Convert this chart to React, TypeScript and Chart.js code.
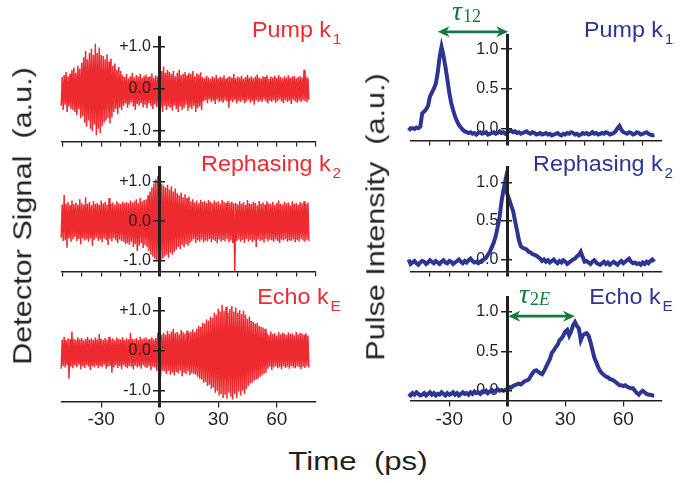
import React, { useEffect, useRef } from "react";
import { Chart, registerables } from "chart.js";

Chart.register(...registerables);

// ---------------- DATA ----------------
// Detector signal (left column): upper / lower excursions of the oscillating trace,
// one pair per 1 ps starting at SIG_T0 (ps)
const SIG_T0 = -53;

const pumpSigUpper = [
  0.35, 0.30, 0.38, 0.28, 0.33, 0.40, 0.30, 0.36,
  0.45, 0.50, 0.38, 0.55, 0.48, 0.62,
  0.75, 0.90, 0.70, 0.85, 0.95, 0.80,
  1.07, 0.85, 0.98, 0.80,
  0.78, 0.70, 0.82, 0.65, 0.72,
  0.55, 0.60, 0.45, 0.52, 0.42,
  0.32, 0.28, 0.35, 0.25, 0.30, 0.38, 0.27, 0.33, 0.29, 0.36, 0.26, 0.31, 0.34, 0.28, 0.30, 0.37, 0.27, 0.32, 0.29,
  0.30, 0.42, 0.53, 0.38, 0.45,
  0.40, 0.35, 0.42, 0.30, 0.38, 0.45, 0.33, 0.36, 0.40, 0.32, 0.38, 0.35, 0.42, 0.30, 0.37, 0.34, 0.39,
  0.28, 0.25, 0.31, 0.27, 0.24, 0.30, 0.26, 0.33, 0.25, 0.29,
  0.27, 0.32, 0.24, 0.28, 0.30, 0.26, 0.35, 0.25, 0.29, 0.27,
  0.31, 0.24, 0.28, 0.33, 0.26, 0.30, 0.25, 0.29, 0.34, 0.27,
  0.25, 0.30, 0.28, 0.32, 0.24, 0.29, 0.27, 0.31, 0.26, 0.33,
  0.28, 0.25, 0.30, 0.27, 0.32, 0.26, 0.29, 0.31, 0.25, 0.28,
  0.30, 0.27, 0.45, 0.29, 0.26,
];
const pumpSigLower = [
  -0.45, -0.60, -0.40, -0.50, -0.38, -0.55, -0.42, -0.48,
  -0.50, -0.55, -0.62, -0.48, -0.70, -0.65,
  -0.80, -0.90, -0.75, -0.95, -1.00, -0.85,
  -1.10, -0.95, -1.05, -0.88,
  -0.80, -0.75, -0.70, -0.82, -0.68,
  -0.55, -0.48, -0.60, -0.45, -0.50,
  -0.40, -0.35, -0.45, -0.38, -0.32, -0.42, -0.50, -0.36, -0.40, -0.34, -0.44, -0.38, -0.46, -0.35, -0.41, -0.48, -0.37, -0.43, -0.39,
  -0.45, -0.55, -0.40, -0.50, -0.42,
  -0.45, -0.52, -0.40, -0.48, -0.55, -0.42, -0.50, -0.45, -0.38, -0.52, -0.44, -0.48, -0.40, -0.55, -0.46, -0.42, -0.50,
  -0.30, -0.27, -0.34, -0.25, -0.31, -0.28, -0.36, -0.26, -0.32, -0.29,
  -0.33, -0.27, -0.30, -0.45, -0.28, -0.32, -0.26, -0.35, -0.29, -0.31,
  -0.27, -0.34, -0.30, -0.26, -0.33, -0.29, -0.38, -0.27, -0.31, -0.28,
  -0.32, -0.26, -0.30, -0.35, -0.28, -0.31, -0.27, -0.33, -0.29, -0.25,
  -0.30, -0.34, -0.27, -0.31, -0.28, -0.36, -0.26, -0.30, -0.33, -0.28,
  -0.31, -0.27, -0.29, -0.32, -0.26,
];

const rephSigUpper = [
  0.45, 0.40, 0.50, 0.42, 0.66, 0.44, 0.48, 0.40, 0.52, 0.43,
  0.47, 0.41, 0.55, 0.45, 0.42, 0.60, 0.44, 0.48, 0.40, 0.50,
  0.43, 0.46, 0.41, 0.52, 0.45, 0.48, 0.42, 0.58, 0.44, 0.47,
  0.41, 0.50, 0.45, 0.43, 0.49, 0.46,
  0.48, 0.45, 0.52, 0.47, 0.50, 0.55, 0.46, 0.58, 0.50, 0.53,
  0.55, 0.65, 0.75, 0.85, 0.95, 1.05, 1.13,
  1.00, 0.95, 0.90, 0.85, 0.92, 0.80, 0.88, 0.75, 0.82,
  0.70, 0.65, 0.72, 0.60, 0.68, 0.58, 0.62,
  0.50, 0.55, 0.47, 0.52, 0.45, 0.54, 0.48, 0.51, 0.46, 0.53, 0.49, 0.45, 0.52, 0.47, 0.50, 0.44, 0.53, 0.48, 0.46, 0.51, 0.47, 0.49,
  0.45,
  0.46, 0.42, 0.50, 0.44, 0.48, 0.41, 0.53, 0.45, 0.43, 0.49,
  0.46, 0.40, 0.51, 0.44, 0.47, 0.42, 0.50, 0.45, 0.43, 0.48,
  0.41, 0.46, 0.52, 0.44, 0.42, 0.49, 0.45, 0.47, 0.40, 0.50,
  0.44, 0.46, 0.42, 0.48, 0.45, 0.50, 0.43, 0.47,
];
const rephSigLower = [
  -0.45, -0.55, -0.42, -0.50, -0.48, -0.67, -0.44, -0.52, -0.46, -0.40,
  -0.50, -0.45, -0.58, -0.43, -0.49, -0.46, -0.52, -0.44, -0.62, -0.47,
  -0.42, -0.50, -0.46, -0.53, -0.44, -0.48, -0.60, -0.45, -0.51, -0.43,
  -0.49, -0.55, -0.46, -0.50, -0.52, -0.58,
  -0.55, -0.60, -0.52, -0.65, -0.58, -0.75, -0.62, -0.56, -0.68, -0.60,
  -0.65, -0.75, -0.85, -0.90, -0.95, -1.00, -1.05,
  -1.00, -0.95, -0.90, -0.85, -0.92, -0.80, -0.85, -0.78, -0.72,
  -0.65, -0.70, -0.60, -0.66, -0.58, -0.62, -0.55,
  -0.50, -0.45, -0.55, -0.48, -0.52, -0.46, -0.54, -0.49, -0.51, -0.45, -0.53, -0.47, -0.50, -0.56, -0.46, -0.52, -0.48, -0.51, -0.45, -0.53, -0.49, -0.55,
  -1.27,
  -0.50, -0.46, -0.52, -0.48, -0.55, -0.45, -0.51, -0.47, -0.53, -0.49,
  -0.65, -0.46, -0.50, -0.48, -0.54, -0.45, -0.51, -0.47, -0.49, -0.52,
  -0.46, -0.50, -0.55, -0.47, -0.49, -0.45, -0.52, -0.48, -0.50, -0.46,
  -0.53, -0.48, -0.51, -0.45, -0.49, -0.52, -0.47, -0.50,
];

const echoSigUpper = [
  0.30, 0.26, 0.33, 0.28, 0.35, 0.27, 0.31, 0.29, 0.48, 0.30,
  0.27, 0.34, 0.29, 0.32, 0.26, 0.30, 0.35, 0.28, 0.31, 0.27,
  0.33, 0.29, 0.42, 0.30, 0.27, 0.32, 0.28, 0.35, 0.29, 0.31,
  0.26, 0.33, 0.30, 0.28, 0.34, 0.27, 0.31, 0.29, 0.45, 0.30,
  0.28, 0.32, 0.27, 0.35, 0.29, 0.31, 0.33, 0.28, 0.30, 0.34,
  0.29, 0.32,
  0.45, 0.60, 0.40,
  0.45, 0.40, 0.50, 0.42, 0.48, 0.55, 0.44, 0.47, 0.41, 0.52, 0.46, 0.43, 0.50, 0.45, 0.48, 0.53, 0.47,
  0.55, 0.62, 0.60, 0.70, 0.68, 0.78, 0.75, 0.85, 0.82, 0.95, 0.90, 1.05, 0.98, 1.15,
  1.00, 1.10, 0.95, 1.05, 1.12, 0.98, 1.08, 0.95, 1.02, 0.92, 1.00, 0.90,
  0.80, 0.85, 0.75, 0.72, 0.68, 0.70, 0.62, 0.60, 0.58, 0.55,
  0.45, 0.40, 0.48, 0.42, 0.44, 0.38, 0.47, 0.41, 0.45, 0.43, 0.40, 0.46, 0.42, 0.44, 0.39, 0.47, 0.41, 0.45, 0.43, 0.40, 0.44, 0.38,
];
const echoSigLower = [
  -0.40, -0.35, -0.45, -0.38, -0.42, -0.36, -0.70, -0.40, -0.44, -0.37,
  -0.41, -0.35, -0.46, -0.39, -0.43, -0.36, -0.40, -0.48, -0.38, -0.42,
  -0.37, -0.44, -0.39, -0.41, -0.35, -0.45, -0.40, -0.38, -0.55, -0.42,
  -0.37, -0.43, -0.39, -0.46, -0.36, -0.41, -0.44, -0.38, -0.40, -0.47,
  -0.37, -0.42, -0.39, -0.45, -0.36, -0.41, -0.43, -0.38, -0.48, -0.40,
  -0.42, -0.50,
  -0.50, -0.65, -0.50,
  -0.52, -0.58, -0.50, -0.60, -0.55, -0.62, -0.53, -0.57, -0.50, -0.64, -0.55, -0.59, -0.52, -0.61, -0.56, -0.58, -0.60,
  -0.65, -0.70, -0.72, -0.80, -0.78, -0.88, -0.85, -0.95, -0.92, -1.05, -1.00, -1.12, -1.08, -1.18,
  -1.10, -1.20, -1.05, -1.15, -1.22, -1.08, -1.18, -1.02, -1.12, -1.00, -1.08, -0.95,
  -0.88, -0.82, -0.80, -0.75, -0.72, -0.70, -0.65, -0.62, -0.58, -0.55,
  -0.45, -0.40, -0.48, -0.42, -0.38, -0.44, -0.41, -0.46, -0.39, -0.43, -0.40, -0.45, -0.38, -0.42, -0.44, -0.39, -0.41, -0.46, -0.40, -0.43, -0.38, -0.42,
];

// Pulse intensity (right column): one value per 1 ps starting at INT_T0 (ps)
const INT_T0 = -54;

const pumpInt = [
  -0.03, -0.04, -0.02, -0.03, 0.00, 0.00, -0.01, 0.01, 0.00, 0.02,
  0.19, 0.21, 0.24, 0.28, 0.40, 0.45, 0.50, 0.56, 0.70, 0.90, 1.03, 0.92,
  0.78, 0.62, 0.45, 0.32, 0.23, 0.15, 0.09, 0.04, 0.01, -0.02, -0.04,
  -0.05, -0.06, -0.05, -0.07, -0.06, -0.08, -0.06, -0.05, -0.07, -0.06, -0.05, -0.08, -0.07, -0.06, -0.05, -0.07, -0.06, -0.04, -0.06, -0.05, -0.07,
  -0.05, -0.04, -0.03, -0.05, -0.04, -0.06, -0.05, -0.07, -0.06, -0.05,
  -0.04, -0.06, -0.07, -0.05, -0.06, -0.08, -0.07, -0.06, -0.08, -0.07,
  -0.06, -0.08, -0.07, -0.09, -0.08, -0.07, -0.06, -0.08, -0.09, -0.07,
  -0.08, -0.06, -0.07, -0.05, -0.06, -0.08, -0.07, -0.09, -0.08, -0.06,
  -0.07, -0.06, -0.08, -0.07, -0.05, -0.07, -0.06, -0.08, -0.07, -0.06,
  -0.07, -0.05, -0.06, -0.08, -0.07, -0.06, -0.04, 0.00, 0.03, -0.02,
  -0.05, -0.06, -0.07, -0.05, -0.06, -0.08, -0.07, -0.05, -0.06, -0.08,
  -0.07, -0.06, -0.05, -0.07, -0.08, -0.09, -0.08,
];

const rephInt = [
  -0.02, -0.05, -0.03, 0.00, -0.06, -0.04, -0.02, -0.05, -0.07, -0.04,
  -0.02, -0.03, -0.06, -0.04, -0.01, -0.03, -0.05, -0.02, -0.04, -0.06,
  -0.03, -0.01, -0.04, -0.05, -0.02, -0.03, -0.06, -0.04, -0.02, 0.00,
  -0.03, -0.05, -0.02, -0.04, -0.01, 0.01, -0.02, -0.04, -0.03, -0.05,
  -0.03, -0.01, 0.00, 0.02,
  0.06, 0.10, 0.16, 0.22, 0.30, 0.42, 0.55, 0.75, 0.90, 1.02, 0.85, 0.78, 0.70,
  0.63, 0.50, 0.38, 0.25, 0.17, 0.15, 0.14, 0.13, 0.10, 0.09, 0.07, 0.06, 0.05,
  0.03, 0.01, -0.02, 0.00, -0.03, -0.01, -0.04, -0.02, 0.00, -0.03,
  -0.05, -0.02, -0.04, -0.01, -0.03, -0.06, -0.04, -0.02, 0.00, 0.01,
  0.04, 0.06, 0.10, 0.03, -0.03, -0.02, -0.04, -0.06, -0.03, -0.01,
  -0.04, -0.06, -0.07, -0.05, -0.03, -0.06, -0.04, -0.07, -0.05, -0.03,
  -0.05, -0.07, -0.04, -0.02, -0.05, -0.03, -0.01, 0.01, -0.03, -0.05,
  -0.04, -0.06, -0.05, -0.07, -0.04, -0.06, -0.03, -0.05, -0.02, 0.00,
  -0.03,
];

const echoInt = [
  -0.03, -0.05, -0.02, -0.04, -0.06, -0.03, -0.05, -0.02, -0.04, -0.06,
  -0.05, -0.03, -0.06, -0.04, -0.02, -0.05, -0.03, -0.06, -0.04, -0.05,
  -0.02, -0.04, -0.06, -0.03, -0.05, -0.04, -0.02, -0.05, -0.03, -0.06,
  -0.04, -0.02, -0.04, -0.03, -0.05, -0.02, -0.04, -0.01, -0.03, -0.02,
  -0.04, -0.01, -0.02, 0.00, -0.03, -0.01, 0.01, -0.01, 0.00, 0.02,
  0.00, 0.01,
  0.00, 0.01, 0.02, 0.05, 0.04, 0.06, 0.07, 0.08, 0.09, 0.08,
  0.10, 0.12, 0.13, 0.14, 0.18, 0.22, 0.25, 0.26, 0.24, 0.22,
  0.21, 0.25, 0.30, 0.35, 0.40, 0.48, 0.51, 0.55, 0.58, 0.64,
  0.66, 0.70, 0.75, 0.77, 0.70, 0.75, 0.83, 0.87, 0.82, 0.79,
  0.64, 0.70, 0.72, 0.73, 0.70, 0.62, 0.52, 0.42, 0.36, 0.30,
  0.25, 0.22, 0.20, 0.18, 0.17, 0.15, 0.14, 0.13, 0.11, 0.09,
  0.07, 0.07, 0.06, 0.07, 0.05, 0.04, 0.03, 0.03, 0.00, -0.03,
  -0.05, -0.02, 0.00, -0.02, -0.04, -0.05, -0.05, -0.06, -0.06,
];

// Axis ticks
const X_MIN = -50;
const X_MAX = 80;
const xTicksLeftMinor = [-50, -40, -30, -20, -10, 0, 10, 20, 30, 40, 50, 60, 70, 80];
const xTicksRightMinor = [-40, -30, -20, -10, 0, 10, 20, 30, 40, 50, 60, 70];
const xTicksLabelled = [-30, 0, 30, 60];
const ySignalTicks = [-1, 0, 1];
const yIntensityTicks = [0, 0.5, 1];

// Delay annotations (ps, intensity units)
const tau12Arrow = { from: -36, to: 0.5, y: 1.22 };
const tau2EArrow = { from: 0.5, to: 35, y: 0.945 };

// ---------------- STYLE ----------------
const RED = "#ec2a2f";
const BLUE = "#2c3591";
const GREEN = "#17793d";
const INK = "#231f20";
const FONT = "'Liberation Sans', Arial, Helvetica, sans-serif";

const arrowPlugin = {
  id: "arrowAnno",
  afterDraw(chart: any, _args: any, opts: any) {
    if (!opts || opts.from === undefined) return;
    const { ctx } = chart;
    const xs = chart.scales.x;
    const ys = chart.scales.y;
    const x1 = xs.getPixelForValue(opts.from);
    const x2 = xs.getPixelForValue(opts.to);
    const py = ys.getPixelForValue(opts.y);
    const hl = 12;
    const hw = 5.5;
    ctx.save();
    ctx.strokeStyle = GREEN;
    ctx.fillStyle = GREEN;
    ctx.lineWidth = 2.6;
    ctx.beginPath();
    ctx.moveTo(x1 + hl * 0.6, py);
    ctx.lineTo(x2 - hl * 0.6, py);
    ctx.stroke();
    ctx.beginPath();
    ctx.moveTo(x1, py);
    ctx.lineTo(x1 + hl, py - hw);
    ctx.lineTo(x1 + hl * 0.7, py);
    ctx.lineTo(x1 + hl, py + hw);
    ctx.closePath();
    ctx.fill();
    ctx.beginPath();
    ctx.moveTo(x2, py);
    ctx.lineTo(x2 - hl, py - hw);
    ctx.lineTo(x2 - hl * 0.7, py);
    ctx.lineTo(x2 - hl, py + hw);
    ctx.closePath();
    ctx.fill();
    ctx.restore();
  },
};

type Pad = { left: number; top: number; right: number; bottom: number };
type PanelSpec = {
  x: number;
  y: number;
  w: number;
  h: number;
  pad: Pad;
  yMin: number;
  yMax: number;
  yTicks: number[];
  yLabel: (v: number) => string;
  xTicks: number[];
  xLabels: boolean;
  kind: "signal" | "intensity";
  upper?: number[];
  lower?: number[];
  values?: number[];
  arrow?: { from: number; to: number; y: number };
};

function buildData(spec: PanelSpec) {
  if (spec.kind === "signal") {
    const pts: { x: number; y: number }[] = [];
    spec.upper!.forEach((u, i) => {
      pts.push({ x: SIG_T0 + i, y: u });
      pts.push({ x: SIG_T0 + i + 0.5, y: spec.lower![i] });
    });
    return {
      datasets: [
        {
          data: pts,
          borderColor: RED,
          borderWidth: 1.5,
          pointRadius: 0,
          tension: 0,
          clip: false as const,
        },
      ],
    };
  }
  return {
    datasets: [
      {
        data: spec.values!.map((v, i) => ({ x: INT_T0 + i, y: v })),
        borderColor: BLUE,
        borderWidth: 4,
        pointRadius: 0,
        tension: 0,
        clip: false as const,
      },
    ],
  };
}

function Panel({ spec }: { spec: PanelSpec }) {
  const ref = useRef<HTMLCanvasElement>(null);
  useEffect(() => {
    const labelsOnTop = spec.kind === "signal" ? 1 : 0;
    const setYTicks = (s: any) => {
      s.ticks = spec.yTicks.map((v) => ({ value: v }));
    };
    const chart = new Chart(ref.current as HTMLCanvasElement, {
      type: "line",
      data: buildData(spec) as any,
      plugins: spec.arrow ? [arrowPlugin as any] : [],
      options: {
        responsive: false,
        animation: false,
        devicePixelRatio: 1,
        layout: { padding: spec.pad },
        plugins: {
          legend: { display: false },
          tooltip: { enabled: false },
          title: { display: false },
          ...(spec.arrow ? { arrowAnno: spec.arrow } : {}),
        } as any,
        scales: {
          x: {
            type: "linear",
            min: X_MIN,
            max: X_MAX,
            position: { y: spec.yMin } as any,
            afterBuildTicks: (s: any) => {
              s.ticks = spec.xTicks.map((v) => ({ value: v }));
            },
            grid: {
              drawOnChartArea: false,
              drawTicks: true,
              tickLength: spec.xLabels ? 5 : 4,
              color: INK,
              lineWidth: (c: any) => (c.tick && c.tick.value === 0 ? 3 : 1.2),
            },
            border: { display: true, color: INK, width: 1.5 },
            ticks: {
              display: spec.xLabels,
              autoSkip: false,
              maxRotation: 0,
              padding: 2,
              color: INK,
              font: { family: FONT, size: 19 },
              callback: (v: any) => String(v),
            },
          },
          y: {
            type: "linear",
            min: spec.yMin,
            max: spec.yMax,
            position: { x: 0 } as any,
            afterBuildTicks: setYTicks,
            grid: {
              drawOnChartArea: false,
              drawTicks: true,
              tickLength: 5,
              color: INK,
              lineWidth: 1.5,
              z: 1,
            },
            border: { display: true, color: INK, width: 3, z: 1 },
            ticks: {
              autoSkip: false,
              color: INK,
              z: labelsOnTop,
              font: { family: FONT, size: 16 },
              callback: (v: any) => spec.yLabel(Number(v)),
            },
          },
          // right-hand half of the cross-shaped tick marks on the x = 0 axis
          yCross: {
            type: "linear",
            min: spec.yMin,
            max: spec.yMax,
            position: { x: 0 } as any,
            afterBuildTicks: setYTicks,
            grid: {
              drawOnChartArea: false,
              drawTicks: true,
              tickLength: -5,
              color: INK,
              lineWidth: 1.5,
              z: 1,
            },
            border: { display: false },
            ticks: { display: false },
          },
        },
      } as any,
    });
    return () => chart.destroy();
  }, []);
  return (
    <canvas
      ref={ref}
      width={spec.w}
      height={spec.h}
      style={{ position: "absolute", left: spec.x, top: spec.y, width: spec.w, height: spec.h }}
    />
  );
}

const sigLabel = (v: number) => (v > 0 ? "+" : "") + v.toFixed(1) + "  ";
const intLabel = (v: number) => v.toFixed(1) + "  ";

const LX = 0, LW = 345, RX = 345, RW = 349;

const panels: PanelSpec[] = [
  {
    x: LX, y: 0, w: LW, h: 155,
    pad: { left: 62.2, top: 37, right: 29.3, bottom: 13.5 },
    yMin: -1.25, yMax: 1.23, yTicks: ySignalTicks, yLabel: sigLabel,
    xTicks: xTicksLeftMinor, xLabels: false, kind: "signal",
    upper: pumpSigUpper, lower: pumpSigLower,
  },
  {
    x: LX, y: 155, w: LW, h: 130,
    pad: { left: 62.2, top: 11.7, right: 29.3, bottom: 13.5 },
    yMin: -1.27, yMax: 1.35, yTicks: ySignalTicks, yLabel: sigLabel,
    xTicks: xTicksLeftMinor, xLabels: false, kind: "signal",
    upper: rephSigUpper, lower: rephSigLower,
  },
  {
    x: LX, y: 285, w: LW, h: 160,
    pad: { left: 62.2, top: 13, right: 29.3, bottom: 43.5 },
    yMin: -1.27, yMax: 1.32, yTicks: ySignalTicks, yLabel: sigLabel,
    xTicks: xTicksLabelled, xLabels: true, kind: "signal",
    upper: echoSigUpper, lower: echoSigLower,
  },
  {
    x: RX, y: 0, w: RW, h: 155,
    pad: { left: 65.6, top: 35, right: 32, bottom: 14.5 },
    yMin: -0.155, yMax: 1.18, yTicks: yIntensityTicks, yLabel: intLabel,
    xTicks: xTicksRightMinor, xLabels: false, kind: "intensity",
    values: pumpInt, arrow: tau12Arrow,
  },
  {
    x: RX, y: 155, w: RW, h: 130,
    pad: { left: 65.6, top: 11.7, right: 32, bottom: 13.5 },
    yMin: -0.157, yMax: 1.193, yTicks: yIntensityTicks, yLabel: intLabel,
    xTicks: xTicksRightMinor, xLabels: false, kind: "intensity",
    values: rephInt,
  },
  {
    x: RX, y: 285, w: RW, h: 160,
    pad: { left: 65.6, top: 12.5, right: 32, bottom: 44 },
    yMin: -0.13, yMax: 1.18, yTicks: yIntensityTicks, yLabel: intLabel,
    xTicks: xTicksLabelled, xLabels: true, kind: "intensity",
    values: echoInt, arrow: tau2EArrow,
  },
];

const subStyle: React.CSSProperties = {
  fontSize: "0.66em",
  position: "relative",
  top: "0.45em",
  marginLeft: "0.12em",
};

function PanelLabel({ text, sub, color, right, cy }: { text: string; sub: string; color: string; right: number; cy: number }) {
  return (
    <div
      style={{
        position: "absolute",
        right: 694 - right,
        top: cy,
        transform: "translateY(-50%) scaleX(1.06)",
        transformOrigin: "right center",
        color,
        fontSize: 22,
        lineHeight: 1,
        whiteSpace: "pre",
        fontFamily: FONT,
      }}
    >
      {text}
      <span style={subStyle}>{sub}</span>
    </div>
  );
}

function Tau({ sub, left, top }: { sub: React.ReactNode; left: number; top: number }) {
  return (
    <div
      style={{
        position: "absolute",
        left,
        top,
        color: GREEN,
        fontFamily: "'Liberation Serif', 'DejaVu Serif', serif",
        fontSize: 28,
        lineHeight: 1,
        whiteSpace: "pre",
      }}
    >
      <span style={{ fontStyle: "italic" }}>τ</span>
      <span style={{ fontSize: 18, position: "relative", top: 2, marginLeft: 1 }}>{sub}</span>
    </div>
  );
}

export default function App() {
  const titleStyle: React.CSSProperties = {
    position: "absolute",
    color: INK,
    fontFamily: FONT,
    whiteSpace: "pre",
    lineHeight: 1,
  };
  return (
    <div
      style={{
        position: "absolute",
        left: 0,
        top: 0,
        width: 694,
        height: 483,
        background: "#ffffff",
        overflow: "hidden",
        fontFamily: FONT,
      }}
    >
      {panels.map((p, i) => (
        <Panel key={i} spec={p} />
      ))}

      <PanelLabel text="Pump k" sub="1" color={RED} right={341} cy={30} />
      <PanelLabel text="Rephasing k" sub="2" color={RED} right={341} cy={164} />
      <PanelLabel text="Echo k" sub="E" color={RED} right={341} cy={297} />
      <PanelLabel text="Pump k" sub="1" color={BLUE} right={673} cy={30} />
      <PanelLabel text="Rephasing k" sub="2" color={BLUE} right={673} cy={164} />
      <PanelLabel text="Echo k" sub="E" color={BLUE} right={673} cy={297} />

      <Tau sub="12" left={452} top={-3} />
      <Tau sub={<>2<span style={{ fontStyle: "italic" }}>E</span></>} left={519} top={280} />

      <div
        style={{
          ...titleStyle,
          left: 23,
          top: 216,
          fontSize: 25.5,
          transform: "translate(-50%, -50%) rotate(-90deg) scaleX(1.2)",
        }}
      >
        {"Detector Signal  (a.u.)"}
      </div>
      <div
        style={{
          ...titleStyle,
          left: 376,
          top: 217,
          fontSize: 25.5,
          transform: "translate(-50%, -50%) rotate(-90deg) scaleX(1.2)",
        }}
      >
        {"Pulse Intensity  (a.u.)"}
      </div>
      <div
        style={{
          ...titleStyle,
          left: 358,
          top: 461,
          fontSize: 26,
          transform: "translate(-50%, -50%) scaleX(1.2)",
        }}
      >
        {"Time  (ps)"}
      </div>
    </div>
  );
}
